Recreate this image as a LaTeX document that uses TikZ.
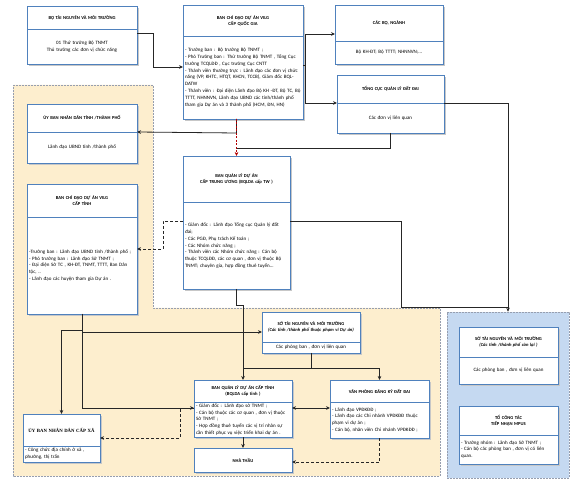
\documentclass[tikz,border=0pt]{standalone}
\usepackage{fontspec}
\setmainfont{Carlito}
\newfontfamily\serifb{Liberation Serif}
\usetikzlibrary{calc,arrows.meta}
\definecolor{boxln}{RGB}{79,129,189}
\definecolor{yel}{RGB}{253,238,206}
\definecolor{blu}{RGB}{197,217,241}
\definecolor{regln}{RGB}{150,158,175}
\definecolor{dred}{RGB}{180,0,0}
\tikzset{
  hdr/.style={draw=boxln, line width=0.9pt, fill=white, inner xsep=2pt, inner ysep=1pt, outer sep=0pt, align=center, font=\fontsize{4.6}{6}\selectfont\bfseries},
  bdy/.style={draw=boxln, line width=0.9pt, fill=white, inner xsep=2pt, inner ysep=1pt, outer sep=0pt, font=\fontsize{5}{6.8}\selectfont},
  conn/.style={draw=black!85, line width=0.8pt},
  endarrow/.style={-{Stealth[length=4pt,width=3.6pt]}},
  botharrow/.style={{Stealth[length=4pt,width=3.6pt]}-{Stealth[length=4pt,width=3.6pt]}},
  dashln/.style={dash pattern=on 3pt off 2pt},
  reddash/.style={draw=dred, line width=0.8pt, dash pattern=on 2pt off 1.5pt},
  region/.style={draw=regln, line width=0.6pt, dash pattern=on 2pt off 1pt},
}
\newcommand{\mkbox}[9][left]{%
  \pgfmathsetmacro{\bxw}{#5-#3}%
  \pgfmathsetmacro{\bxtw}{#5-#3-4}%
  \pgfmathsetmacro{\bxc}{(#3+#5)/2}%
  \pgfmathsetmacro{\bxhy}{(#4+#6)/2}%
  \pgfmathsetmacro{\bxhh}{#6-#4}%
  \pgfmathsetmacro{\bxby}{(#6+#7)/2}%
  \pgfmathsetmacro{\bxbh}{#7-#6}%
  \fill[black!22] ($(#3,#4)+(1.6,1.6)$) rectangle ($(#5,#7)+(1.6,1.6)$);
  \node[hdr, minimum width=\bxw pt, text width=\bxtw pt, minimum height=\bxhh pt] (#2h) at (\bxc,\bxhy) {#8};
  \node[bdy, align=#1, minimum width=\bxw pt, text width=\bxtw pt, minimum height=\bxbh pt] (#2b) at (\bxc,\bxby) {#9};
}
\begin{document}
\begin{tikzpicture}[x=1pt,y=-1pt]
\fill[white] (0,0) rectangle (576,486);
\useasboundingbox (0,0) rectangle (576,486);
% regions
\filldraw[fill=yel, region] (13,85) -- (153,85) -- (153,308) -- (440,308) -- (440,476) -- (13,476) -- cycle;
\node[fill=blu, region, minimum width=122pt, minimum height=166pt, inner sep=0pt] (bluereg) at (508,395) {};

% boxes
\mkbox[center]{bo}{27}{6}{137}{29}{64}{BỘ TÀI NGUYÊN VÀ MÔI TRƯỜNG}{01 Thứ trưởng Bộ TNMT\\Thủ trưởng các đơn vị chức năng}
\mkbox{qg}{183}{5}{303}{36}{119}{BAN CHỈ ĐẠO DỰ ÁN VILG\\CẤP QUỐC GIA}{- Trưởng ban : Bộ trưởng Bộ TNMT ;\\- Phó Trưởng ban : Thứ trưởng Bộ TNMT , Tổng Cục trưởng TCQLĐĐ , Cục trưởng Cục CNTT\\- Thành viên thường trực : Lãnh đạo các đơn vị chức năng (VP, KHTC, HTQT, KHCN, TCCB), Giám đốc BQLDATW\\- Thành viên : Đại diện Lãnh đạo Bộ KH -ĐT, Bộ TC, Bộ TTTT, NHNNVN, Lãnh đạo UBND các tỉnh/thành phố tham gia Dự án và 3 thành phố (HCM, ĐN, HN)}
\mkbox[center]{cb}{335}{5}{443}{41}{64}{CÁC BỘ, NGÀNH}{Bộ KH-ĐT; Bộ TTTT; NHNNVN;...}
\mkbox[center]{tc}{337}{75}{444}{103}{133}{TỔNG CỤC QUẢN LÝ ĐẤT ĐAI}{Các đơn vị liên quan}
\mkbox[center]{ub}{27}{104}{137}{132}{163}{ỦY BAN NHÂN DÂN TỈNH /THÀNH PHỐ}{Lãnh đạo UBND tỉnh /thành phố}
\mkbox{bct}{27}{184}{137}{217}{314}{BAN CHỈ ĐẠO DỰ ÁN VILG\\CẤP TỈNH}{-Trưởng ban : Lãnh đạo UBND tỉnh /thành phố ;\\- Phó trưởng ban : Lãnh đạo Sở TNMT ;\\- Đại diện Sở TC , KH-ĐT, TNMT, TTTT, Ban Dân tộc, ..\\- Lãnh đạo các huyện tham gia Dự án .}
\mkbox{qtw}{183}{156}{290}{202}{289}{BAN QUẢN LÝ DỰ ÁN\\CẤP TRUNG ƯƠNG (BQLDA cấp TW )}{- Giám đốc : Lãnh đạo Tổng cục Quản lý đất đai;\\- Các PGĐ, Phụ trách Kế toán ;\\- Các Nhóm chức năng ;\\- Thành viên các Nhóm chức năng : Cán bộ thuộc TCQLĐĐ, các cơ quan , đơn vị thuộc Bộ TNMT; chuyên gia, hợp đồng thuê tuyển...}
\mkbox[center]{st}{262}{312}{360}{342}{353}{SỞ TÀI NGUYÊN VÀ MÔI TRƯỜNG\\\textit{(Các tỉnh /thành phố thuộc phạm vi Dự án)}}{Các phòng ban , đơn vị liên quan}
\mkbox{pq}{194}{380}{292}{402}{437}{BAN QUẢN LÝ DỰ ÁN CẤP TỈNH\\(BQLDA cấp tỉnh )}{- Giám đốc : Lãnh đạo sở TNMT ;\\- Cán bộ thuộc các cơ quan , đơn vị thuộc Sở TNMT ;\\- Hợp đồng thuê tuyển các vị trí nhân sự cần thiết phục vụ việc triển khai dự án .}
\mkbox{vp}{330}{380}{429}{402}{438}{VĂN PHÒNG ĐĂNG KÝ ĐẤT ĐAI}{- Lãnh đạo VPĐKĐĐ ;\\- Lãnh đạo các Chi nhánh VPĐKĐĐ thuộc phạm vi dự án ;\\- Cán bộ, nhân viên Chi nhánh VPĐKĐĐ ;}
\fill[black!22] (195.6,449.6) rectangle (293.6,473.6);
\node[hdr, minimum width=98pt, minimum height=24pt] (nt) at (243,460) {NHÀ THẦU};
\mkbox{xa}{23}{414}{100}{446}{462}{\serifb\fontsize{4.8}{5.8}\selectfont ỦY BAN NHÂN DÂN CẤP XÃ}{- Công chức địa chính ở xã , phường, thị trấn}
\mkbox[center]{sr}{459}{327}{558}{357}{384}{SỞ TÀI NGUYÊN VÀ MÔI TRƯỜNG\\\textit{(Các tỉnh /thành phố còn lại )}}{Các phòng ban , đơn vị liên quan}
\mkbox{tg}{459}{406}{558}{435}{464}{TỔ CÔNG TÁC\\TIẾP NHẬN MPUS}{- Trưởng nhóm : Lãnh đạo Sở TNMT ;\\- Cán bộ các phòng ban , đơn vị có liên quan.}

% connectors
\draw[conn,endarrow] (bob.east |- 0,33) -- (153,33) -- (153,67) -- (qgb.west |- 0,67);
\draw[conn,endarrow] (qgb.east |- 0,65) -- (305,65) -- (305,34) -- (cbh.west |- 0,34);
\draw[conn,endarrow] (305,65) -- (305,103) -- (tcb.north west);
\draw[conn,endarrow] (qtwh.north |- qgb.south) -- (qtwh.north |- 0,133) -- (ubb.north east);
\draw[conn] (tcb.south) -- (tcb.south |- 0,148) -- (qtwh.north |- 0,148);
\draw[reddash,endarrow] (qtwh.north |- qgb.south) -- (qtwh.north);
\draw[conn,endarrow] (tcb.north east) -| (bluereg.north);
\draw[conn] (qtwb.east |- 0,221) -| (401,307) -- (bluereg.north |- 0,307);
\draw[conn,dashln,endarrow] (qtwb.west |- 0,221) -- (163,221) -- (163,249) -- (bctb.east |- 0,249);
\draw[conn,endarrow] (qtwb.south) -- (qtwb.south |- 0,305) -| (pqh.north);
\draw[conn,endarrow] (bctb.south) -- (bctb.south |- 0,330) -| (xah.north);
\draw[conn,endarrow] (bctb.south |- 0,332) -- (sth.west |- 0,332);
\draw[conn,dashln,endarrow] (pqb.west |- 0,408) -| (180,438) -- (xah.east |- 0,438);
\draw[conn,endarrow] (bctb.south) -- (bctb.south |- 0,408) -- (pqb.west |- 0,408);
\draw[conn] (stb.south) -- (stb.south |- 0,368) -- (pqh.north |- 0,368);
\draw[conn,endarrow] (stb.south |- 0,368) -| (vph.north);
\draw[conn,botharrow] (pqb.east |- 0,408) -- (vpb.west |- 0,408);
\draw[conn,endarrow] (pqb.south) -- (nt.north);
\draw[conn,dashln,endarrow] (vpb.south) -- (vpb.south |- 0,462) -- (nt.east |- 0,462);
\end{tikzpicture}
\end{document}
